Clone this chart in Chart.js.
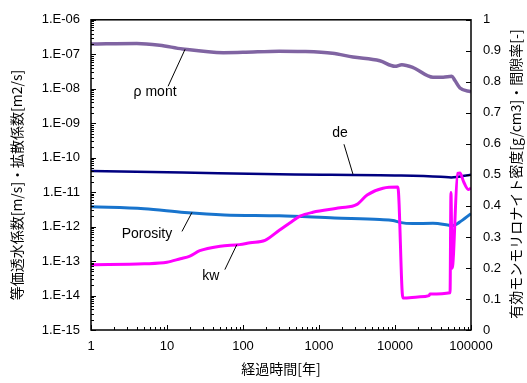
<!DOCTYPE html>
<html>
<head>
<meta charset="utf-8">
<script src="https://cdn.jsdelivr.net/npm/chart.js@4/dist/chart.umd.min.js"></script>
<style>
html,body{margin:0;padding:0;background:#fff;}
canvas{display:block;}
</style>
</head>
<body>
<canvas id="c" width="527" height="383"></canvas>
<script>
// ---- data ----
const xTickValues = [1, 10, 100, 1000, 10000, 100000];
const leftTickValues = [1e-15, 1e-14, 1e-13, 1e-12, 1e-11, 1e-10, 1e-9, 1e-8, 1e-7, 1e-6];
const rightTickValues = [0, 0.1, 0.2, 0.3, 0.4, 0.5, 0.6, 0.7, 0.8, 0.9, 1];

const rhoMontYears  = [1, 4, 8, 16, 55, 100, 300, 600, 1500, 2800, 6300, 10000, 12300, 17300, 31600, 43000, 56000, 61500, 71600, 100000];
const rhoMontValues = [0.922, 0.924, 0.918, 0.906, 0.894, 0.895, 0.899, 0.898, 0.892, 0.880, 0.868, 0.850, 0.855, 0.846, 0.815, 0.815, 0.818, 0.804, 0.780, 0.768];

const deYears  = [1, 16, 300, 12000, 40000, 55000, 100000];
const deValues = [4.1e-11, 3.7e-11, 3.3e-11, 3.04e-11, 2.8e-11, 2.67e-11, 3.2e-11];

const porosityYears  = [1, 5, 17, 57, 300, 1600, 6300, 9400, 11500, 17000, 31600, 53000, 57000, 70000, 100000];
const porosityValues = [0.397, 0.391, 0.379, 0.371, 0.368, 0.361, 0.356, 0.353, 0.347, 0.343, 0.344, 0.337, 0.336, 0.347, 0.375];

const kwYears  = [1, 5, 10, 15, 20, 27, 50, 90, 124, 195, 300, 417, 562, 830, 1900, 3160, 4300, 6950, 10900, 12700, 20000, 28000, 29000, 53000, 54500, 56500, 66800, 71600, 80000, 92000, 100000];
const kwValues = [7.8e-14, 8.3e-14, 9.2e-14, 1.17e-13, 1.4e-13, 2.0e-13, 2.7e-13, 3.0e-13, 3.4e-13, 4.0e-13, 7.8e-13, 1.3e-12, 2.0e-12, 2.6e-12, 3.5e-12, 4.4e-12, 8.3e-12, 1.3e-11, 1.4e-11, 8.5e-15, 9.1e-15, 1.0e-14, 1.1e-14, 1.2e-14, 9.8e-12, 6.2e-14, 3.5e-11, 3.6e-11, 2.0e-11, 1.2e-11, 1.3e-11];

const seriesNames = ['kw', 'Porosity', 'de', 'ρmont'];

const xTitle = '経過時間[年]';
const leftTitle = '等価透水係数[m/s]・拡散係数[m2/s]';
const rightTitle = '有効モンモリロナイト密度[g/cm3]・間隙率[-]';

// ---- helpers ----
const pts = (xs, ys) => xs.map((x, i) => ({x: x, y: ys[i]}));

// callout labels: anchored to a data position, drawn with pixel offsets
const callouts = [
  {text: 'ρ mont', x: 17.3, y: 0.905, axis: 'y1', line: [-17, 37], label: [-30, 43]},
  {text: 'de', x: 2800, y: 3.3e-11, axis: 'y', line: [-9, -30], label: [-13, -41]},
  {text: 'Porosity', x: 21.3, y: 0.379, axis: 'y1', line: [-10, 19], label: [-45, 22]},
  {text: 'kw', x: 83, y: 3.0e-13, axis: 'y', line: [-12, 25], label: [-26, 32]}
];

const TXT = '#000';
const jpFont = '14px "Noto Sans CJK JP", "Noto Sans", sans-serif';

const decor = {
  id: 'decor',
  afterDraw(chart) {
    const {ctx, chartArea: a, scales} = chart;
    const x = scales.x, y = scales.y, y1 = scales.y1;
    ctx.save();
    ctx.strokeStyle = '#000';
    ctx.lineWidth = 1;
    // bottom inward ticks
    for (let e = 0; e <= 5; e++) {
      for (let m = 1; m <= 9; m++) {
        const v = m * Math.pow(10, e);
        if (v > 100000) break;
        const px = Math.round(x.getPixelForValue(v)) + 0.5;
        const len = m === 1 ? 5 : 3;
        ctx.beginPath(); ctx.moveTo(px, a.bottom); ctx.lineTo(px, a.bottom - len); ctx.stroke();
      }
    }
    // left inward ticks
    for (let e = -15; e <= -6; e++) {
      for (let m = 1; m <= 9; m++) {
        const v = m * Math.pow(10, e);
        if (e === -6 && m > 1) break;
        const py = Math.round(y.getPixelForValue(v)) + 0.5;
        const len = m === 1 ? 5 : 3;
        ctx.beginPath(); ctx.moveTo(a.left, py); ctx.lineTo(a.left + len, py); ctx.stroke();
      }
    }
    // right inward ticks
    rightTickValues.forEach(v => {
      const py = Math.round(y1.getPixelForValue(v)) + 0.5;
      ctx.beginPath(); ctx.moveTo(a.right, py); ctx.lineTo(a.right - 5, py); ctx.stroke();
    });
    // plot box
    ctx.lineWidth = 1.5;
    ctx.strokeRect(a.left, a.top, a.right - a.left, a.bottom - a.top);

    // callouts
    ctx.lineWidth = 1;
    ctx.fillStyle = '#000';
    ctx.font = '14px "Liberation Sans", Arial, sans-serif';
    ctx.textAlign = 'center';
    ctx.textBaseline = 'middle';
    callouts.forEach(c => {
      const ax = x.getPixelForValue(c.x);
      const ay = scales[c.axis].getPixelForValue(c.y);
      ctx.beginPath(); ctx.moveTo(ax + c.line[0], ay + c.line[1]); ctx.lineTo(ax, ay); ctx.stroke();
      ctx.fillText(c.text, ax + c.label[0], ay + c.label[1]);
    });

    // axis titles
    ctx.fillStyle = TXT;
    ctx.font = jpFont;
    ctx.fillText(xTitle, (a.left + a.right) / 2, 369);
    ctx.save();
    ctx.translate(17, 185);
    ctx.rotate(-Math.PI / 2);
    ctx.fillText(leftTitle, 0, 0);
    ctx.restore();
    ctx.save();
    ctx.translate(516, 174);
    ctx.rotate(-Math.PI / 2);
    ctx.fillText(rightTitle, 0, 0);
    ctx.restore();
    ctx.restore();
  }
};

const tickFont = {family: '"Liberation Sans", Arial, sans-serif', size: 13};

new Chart(document.getElementById('c'), {
  type: 'line',
  data: {
    datasets: [
      {label: seriesNames[0], data: pts(kwYears, kwValues), yAxisID: 'y', borderColor: '#FF00FF', borderWidth: 3},
      {label: seriesNames[1], data: pts(porosityYears, porosityValues), yAxisID: 'y1', borderColor: '#1874CD', borderWidth: 3},
      {label: seriesNames[2], data: pts(deYears, deValues), yAxisID: 'y', borderColor: '#000080', borderWidth: 2.5},
      {label: seriesNames[3], data: pts(rhoMontYears, rhoMontValues), yAxisID: 'y1', borderColor: '#8064A2', borderWidth: 3.5}
    ]
  },
  options: {
    responsive: false,
    devicePixelRatio: 1,
    animation: false,
    parsing: true,
    layout: {padding: {top: 13, left: 0, right: 0, bottom: 0}},
    elements: {
      point: {radius: 0, hoverRadius: 0},
      line: {cubicInterpolationMode: 'monotone', fill: false}
    },
    plugins: {legend: {display: false}, tooltip: {enabled: false}, title: {display: false}},
    scales: {
      x: {
        type: 'logarithmic', position: 'bottom', min: 1, max: 100000,
        afterBuildTicks: s => { s.ticks = xTickValues.map(v => ({value: v})); },
        afterFit: s => { s.height = 53; },
        grid: {display: false, drawTicks: false},
        border: {display: false},
        ticks: {color: TXT, font: tickFont, padding: 9, maxRotation: 0, autoSkip: false,
          callback: v => String(v)}
      },
      y: {
        type: 'logarithmic', position: 'left', min: 1e-15, max: 1e-6,
        afterBuildTicks: s => { s.ticks = leftTickValues.map(v => ({value: v})); },
        afterFit: s => { s.width = 91; },
        grid: {display: false, drawTicks: false},
        border: {display: false},
        ticks: {color: TXT, font: tickFont, padding: 11, autoSkip: false,
          callback: v => { const e = Math.round(Math.log10(v)); return '1.E' + (e < 0 ? '-' : '+') + String(Math.abs(e)).padStart(2, '0'); }}
      },
      y1: {
        type: 'linear', position: 'right', min: 0, max: 1,
        afterBuildTicks: s => { s.ticks = rightTickValues.map(v => ({value: v})); },
        afterFit: s => { s.width = 56; },
        grid: {display: false, drawTicks: false},
        border: {display: false},
        ticks: {color: TXT, font: tickFont, padding: 12, autoSkip: false,
          callback: v => String(Math.round(v * 10) / 10)}
      }
    }
  },
  plugins: [decor]
});
</script>
</body>
</html>
